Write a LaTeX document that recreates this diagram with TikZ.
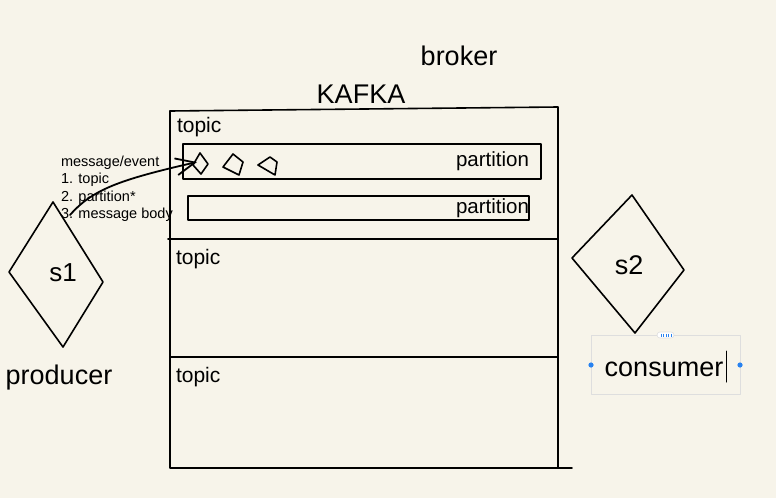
\documentclass[tikz,border=0pt]{standalone}
\usepackage{fontspec}
\setmainfont{Liberation Sans}
\usepackage{xcolor}
\usetikzlibrary{arrows.meta}
\definecolor{paper}{RGB}{247,244,234}
\definecolor{selblue}{RGB}{40,130,240}
\definecolor{selgrey}{RGB}{222,222,222}

\begin{document}
\begin{tikzpicture}[line cap=round,line join=round,x=1pt,y=-1pt,
  every node/.style={inner sep=0pt,outer sep=0pt},
  big/.style={font=\fontsize{27}{30}\selectfont},
  mid/.style={font=\fontsize{21}{24}\selectfont},
  small/.style={font=\fontsize{14.5}{17.3}\selectfont},
  pen/.style={line width=1.6pt,color=black}]
\fill[paper] (0,0) rectangle (776,498);
\useasboundingbox (0,0) rectangle (776,498);
% kafka box
\draw[pen] (170,111) -- (558,107) -- (558,468);
\draw[pen] (170,111) -- (170,468) -- (572,468);
\draw[pen] (168,239) -- (558,239);
\draw[pen] (170,357) -- (558,357);
\node[big,anchor=base] (broker) at (459,65) {broker};
\node[big,anchor=base] (kafka) at (361,103) {KAFKA};
\node[mid,anchor=base west] (topic1) at (177,132) {topic};
\node[mid,anchor=base west] (topic2) at (176,264) {topic};
\node[mid,anchor=base west] (topic3) at (176,382) {topic};
% partitions
\draw[pen] (183,144) rectangle (541,179);
\draw[pen] (188,196) rectangle (529,220);
\node[mid,font=\fontsize{20.5}{24}\selectfont,anchor=base east] (part1) at (529,166) {partition};
\node[mid,font=\fontsize{20.5}{24}\selectfont,anchor=base east] (part2) at (529,213) {partition};
% messages
\draw[pen] (200,153) -- (208,164) -- (201,174) -- (193,165) -- cycle;
\draw[pen] (233,154) -- (243,162) -- (239,175) -- (223,167) -- cycle;
\draw[pen] (258,165) -- (270,157) -- (277,162) -- (275,175) -- cycle;
% message text
\node[small,anchor=base west] (msg0) at (61,166) {message/event};
\node[small,anchor=base west] (msg1) at (61,183.5) {1. topic};
\node[small,anchor=base west] (msg2) at (61,201) {2. partition*};
\node[small,anchor=base west] (msg3) at (61,218.5) {3. message body};
\coordinate (send) at (70,215);
\coordinate (recv) at (197,162);
\draw[pen,line width=1.8pt,-{Straight Barb[length=19pt,width=17pt,line width=1.8pt]}] (send) .. controls (92,190) and (118,180) .. (recv);
% producer
\draw[pen] (53,202) -- (103,282) -- (63,347) -- (9,272) -- cycle;
\node[big,font=\fontsize{26}{30}\selectfont,anchor=base] (s1) at (63,281) {s1};
\node[big,anchor=base] (producer) at (59,384) {producer};
% consumer
\draw[pen] (632,195) -- (684,270) -- (635,333) -- (572,258) -- cycle;
\node[big,anchor=base] (s2) at (629,274) {s2};
\draw[selgrey,line width=0.6pt] (591,335) rectangle (740,394);
\node[big,anchor=base] (consumer) at (664,376) {consumer};
\draw[black,line width=1pt] (726,351) -- (726,382);
\fill[selblue] (591,365) circle (2.6);
\fill[selblue] (740,365) circle (2.6);
\draw[selgrey,fill=white,line width=0.6pt,rounded corners=3pt] (657,332) rectangle (674,338);
\foreach \x in {661,663.5,666,668.5,671}
  \draw[selblue,line width=0.9pt,line cap=butt] (\x,333.5) -- (\x,336.5);
\end{tikzpicture}
\end{document}
